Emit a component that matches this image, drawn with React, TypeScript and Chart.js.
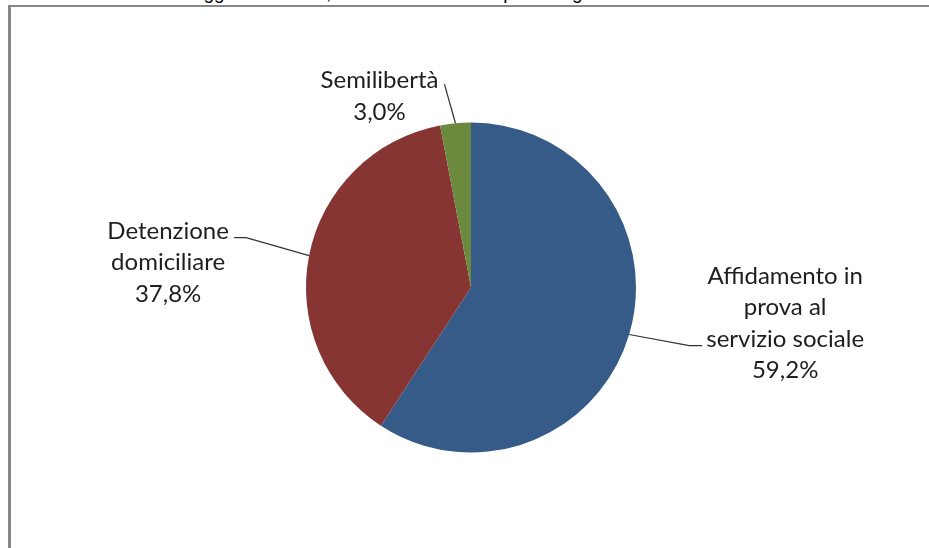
import { useEffect, useRef } from "react";
import { Chart, registerables } from "chart.js";

Chart.register(...registerables);

// ---- data ----
const categories = [
  "Affidamento in prova al servizio sociale",
  "Detenzione domiciliare",
  "Semilibertà",
];
const labelLines = [
  ["Affidamento in", "prova al", "servizio sociale"],
  ["Detenzione", "domiciliare"],
  ["Semilibertà"],
];
const values = [59.2, 37.8, 3.0];
const colors = ["#375B88", "#863533", "#6B8A3E"];
const titleText = "Grafico 1 – Soggetti in carico, distinti nelle misure per categoria";

// ---- label styling (offsets relative to the slice edge point) ----
const labelLayout = [
  { elbow: [60, 11], end: [73, 11], text: [156, -51] },
  { elbow: [-63, -18], end: [-75, -18], text: [-141, -17] },
  { elbow: [-11, -39], end: [-11, -39], text: [-76, -35] },
];
const LABEL_FONT = "24px Lato, 'Open Sans', sans-serif";
const LINE_H = 31.5;

const fmt = (v: number) => v.toFixed(1).replace(".", ",") + "%";

const labelPlugin = {
  id: "outerLabels",
  afterDatasetsDraw(chart: any) {
    const ctx = chart.ctx as CanvasRenderingContext2D;
    const meta = chart.getDatasetMeta(0);
    const ds = chart.data.datasets[0].data as number[];
    meta.data.forEach((arc: any, i: number) => {
      const p = arc.getProps(["x", "y", "startAngle", "endAngle", "outerRadius"], true);
      const mid = (p.startAngle + p.endAngle) / 2;
      const ex = p.x + Math.cos(mid) * p.outerRadius;
      const ey = p.y + Math.sin(mid) * p.outerRadius;
      const L = labelLayout[i];
      ctx.save();
      ctx.strokeStyle = "#333333";
      ctx.lineWidth = 1.2;
      ctx.beginPath();
      ctx.moveTo(ex, ey);
      ctx.lineTo(ex + L.elbow[0], ey + L.elbow[1]);
      ctx.lineTo(ex + L.end[0], ey + L.end[1]);
      ctx.stroke();
      ctx.fillStyle = "#1e1e1e";
      ctx.font = LABEL_FONT;
      ctx.textAlign = "center";
      ctx.textBaseline = "alphabetic";
      const lines = [...labelLines[i], fmt(ds[i])];
      const tx = ex + L.text[0];
      const ty = ey + L.text[1];
      lines.forEach((ln, k) => ctx.fillText(ln, tx, ty + k * LINE_H));
      ctx.restore();
    });
  },
};

export default function App() {
  const ref = useRef<HTMLCanvasElement>(null);
  useEffect(() => {
    const chart = new Chart(ref.current!, {
      type: "pie",
      data: {
        labels: categories,
        datasets: [{ data: values, backgroundColor: colors, borderWidth: 0 }],
      },
      options: {
        animation: false,
        responsive: false,
        maintainAspectRatio: false,
        layout: { padding: { left: 150, right: 137, top: 122.5, bottom: 95.5 } },
        plugins: {
          legend: { display: false },
          tooltip: { enabled: false },
          title: { display: false },
        },
      },
      plugins: [labelPlugin],
    });
    return () => chart.destroy();
  }, []);

  return (
    <div style={{ position: "fixed", inset: 0, overflow: "hidden", background: "#fff" }}>
      <div
        style={{
          position: "absolute",
          left: 82,
          top: -17,
          fontFamily: "'Liberation Sans', Arial, sans-serif",
          fontSize: 19,
          lineHeight: "19px",
          whiteSpace: "nowrap",
          color: "#000",
        }}
      >
        {titleText}
      </div>
      <div
        style={{
          position: "absolute",
          left: 8,
          top: 5,
          width: 1000,
          height: 1000,
          borderLeft: "3px solid #878787",
          borderTop: "2px solid #878787",
          background: "#fff",
        }}
      />
      <canvas
        ref={ref}
        width={929}
        height={548}
        style={{ position: "absolute", left: 0, top: 0, width: 929, height: 548 }}
      />
    </div>
  );
}
